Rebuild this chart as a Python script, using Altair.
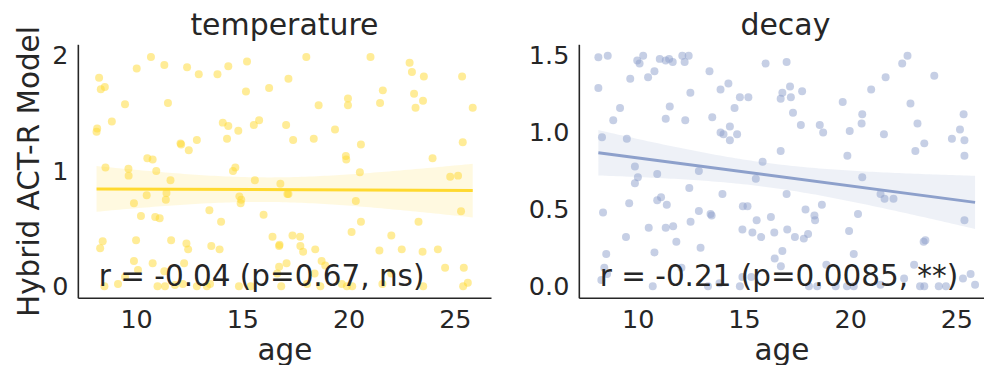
import altair as alt
import pandas as pd
import numpy as np

FONT = "DejaVu Sans"
INK = "#262626"

# ---- data ----
temp_age = [10.70, 18.01, 21.03, 11.33, 10.03, 12.40, 14.34, 15.22, 22.87, 22.98,
            23.54, 25.34, 8.26, 12.95, 13.83, 17.17, 8.34, 8.53, 15.17, 16.26,
            21.61, 23.08, 19.97, 19.97, 21.48, 23.50, 23.15, 25.84, 9.48, 11.50,
            18.59, 8.86, 8.17, 8.14, 14.08, 14.34, 14.81, 15.54, 15.79, 17.06,
            19.36, 12.09, 12.12, 12.86, 12.48, 14.28, 17.39, 18.36, 20.58, 25.37,
            10.53, 10.78, 8.56, 9.64, 9.65, 10.95, 14.56, 14.67, 15.59, 16.79,
            19.87, 19.89, 20.53, 23.95, 24.78, 25.15, 11.62, 10.50, 11.43, 11.40,
            9.90, 14.86, 14.95, 14.92, 17.12, 17.17, 20.34, 25.29, 13.45, 10.23,
            10.90, 11.11, 14.00, 16.00, 20.58, 20.14, 23.29, 22.01, 8.43, 8.31,
            10.00, 11.65, 12.37, 12.45, 13.54, 13.93, 16.42, 16.73, 16.75, 17.36,
            17.72, 17.73, 17.86, 18.43, 21.45, 22.50, 23.48, 24.20, 9.90, 10.78,
            12.26, 10.09, 9.48, 9.15, 8.51, 11.01, 11.36, 11.83, 12.20, 12.86,
            13.33, 13.48, 14.84, 15.39, 16.83, 17.08, 16.73, 16.64, 18.04, 18.67,
            18.73, 18.90, 19.68, 19.92, 20.17, 21.59, 22.01, 23.51, 24.54, 25.42,
            25.39, 25.61, 11.33, 18.40]
temp_val = [1.99, 1.99, 1.99, 1.92, 1.89, 1.90, 1.91, 1.95, 1.94, 1.86,
            1.82, 1.82, 1.81, 1.84, 1.84, 1.80, 1.71, 1.73, 1.69, 1.72,
            1.70, 1.67, 1.63, 1.57, 1.59, 1.61, 1.55, 1.55, 1.58, 1.59,
            1.57, 1.43, 1.37, 1.34, 1.42, 1.39, 1.35, 1.40, 1.44, 1.40,
            1.36, 1.24, 1.23, 1.27, 1.18, 1.28, 1.27, 1.28, 1.23, 1.25,
            1.11, 1.10, 1.03, 1.02, 0.96, 1.00, 1.00, 1.03, 0.92, 0.89,
            1.13, 1.10, 0.99, 1.11, 0.95, 0.96, 0.92, 0.79, 0.81, 0.75,
            0.72, 0.78, 0.75, 0.72, 0.80, 0.80, 0.74, 0.65, 0.66, 0.61,
            0.60, 0.59, 0.56, 0.62, 0.56, 0.47, 0.56, 0.44, 0.39, 0.33,
            0.40, 0.40, 0.37, 0.32, 0.35, 0.32, 0.43, 0.35, 0.36, 0.44,
            0.43, 0.35, 0.30, 0.32, 0.31, 0.32, 0.30, 0.32, 0.22, 0.20,
            0.20, 0.14, 0.08, 0.02, 0.00, 0.00, 0.00, 0.01, 0.02, 0.00,
            0.00, 0.02, 0.00, 0.00, 0.00, 0.20, 0.17, 0.11, 0.02, 0.00,
            0.22, 0.18, 0.02, 0.00, 0.00, 0.02, 0.11, 0.00, 0.16, 0.16,
            0.00, 0.03, 0.13, 0.11]

decay_age = [8.15, 8.59, 9.98, 10.09, 10.26, 10.49, 10.79, 11.04, 11.32, 11.48,
             11.65, 12.10, 12.21, 12.40, 8.15, 9.65, 13.38, 13.90, 14.27, 12.48,
             14.81, 15.21, 16.02, 17.01, 16.73, 16.81, 17.17, 17.21, 17.74, 17.31,
             17.68, 18.57, 18.73, 19.65, 19.98, 20.54, 20.57, 20.99, 21.67, 21.59,
             22.45, 22.70, 22.84, 23.17, 23.49, 23.07, 23.96, 24.79, 25.17, 25.34,
             25.38, 25.38, 9.17, 8.85, 11.32, 11.51, 12.24, 13.51, 13.90, 14.04,
             14.34, 14.68, 14.34, 14.56, 8.32, 9.49, 9.87, 10.01, 9.87, 10.92,
             12.88, 12.43, 13.99, 15.56, 15.88, 16.73, 17.01, 19.87, 20.57, 21.43,
             21.62, 22.04, 8.37, 9.60, 10.92, 11.10, 11.37, 12.88, 13.43, 13.48,
             14.95, 15.17, 15.60, 16.27, 17.90, 18.32, 18.35, 18.67, 20.37, 25.38,
             9.45, 10.52, 11.32, 11.67, 11.82, 12.49, 12.96, 14.93, 15.40, 15.81,
             16.43, 17.04, 17.40, 17.82, 18.02, 19.95, 23.46, 23.54, 8.52, 10.79,
             16.81, 16.45, 16.74, 18.88, 20.17, 23.01, 25.67, 25.31, 8.29, 8.43,
             8.56, 10.71, 12.06, 13.31, 13.85, 14.81, 14.93, 15.35, 18.06, 18.45,
             19.32, 19.85, 20.17, 21.43, 22.54, 23.29, 23.49, 24.17, 24.51, 25.88]
decay_val = [1.49, 1.50, 1.47, 1.45, 1.50, 1.36, 1.40, 1.48, 1.47, 1.48,
             1.46, 1.50, 1.46, 1.50, 1.29, 1.35, 1.40, 1.28, 1.32, 1.26,
             1.23, 1.23, 1.45, 1.46, 1.22, 1.26, 1.30, 1.23, 1.27, 1.13,
             1.05, 1.05, 1.00, 1.20, 1.01, 1.06, 1.12, 1.28, 1.36, 0.99,
             1.45, 1.50, 1.19, 1.06, 0.93, 0.88, 1.37, 0.96, 1.02, 1.12,
             0.95, 0.85, 1.16, 1.08, 1.09, 1.17, 1.08, 1.10, 1.00, 0.99,
             0.95, 0.99, 1.04, 1.16, 0.97, 0.96, 0.78, 0.71, 0.67, 0.73,
             0.75, 0.64, 0.60, 0.70, 0.81, 0.88, 0.60, 0.85, 0.71, 0.60,
             0.57, 0.57, 0.48, 0.54, 0.56, 0.58, 0.53, 0.49, 0.47, 0.46,
             0.52, 0.52, 0.43, 0.45, 0.50, 0.46, 0.43, 0.53, 0.47, 0.43,
             0.32, 0.38, 0.38, 0.39, 0.29, 0.42, 0.25, 0.37, 0.35, 0.32,
             0.35, 0.37, 0.32, 0.31, 0.34, 0.36, 0.29, 0.30, 0.21, 0.22,
             0.23, 0.18, 0.13, 0.14, 0.21, 0.14, 0.08, 0.05, 0.04, 0.12,
             0.08, 0.00, 0.12, 0.00, 0.02, 0.00, 0.06, 0.06, 0.00, 0.00,
             0.00, 0.00, 0.00, 0.01, 0.05, 0.00, 0.00, 0.00, 0.00, 0.01]

panel_titles = ["temperature", "decay"]
panel_colors = ["#FFD92F", "#8DA0CB"]
annotations = ["r = -0.04 (p=0.67, ns)", "r = -0.21 (p=0.0085, **)"]
x_ticks = [10, 15, 20, 25]
temp_y_ticks = [0, 1, 2]
decay_y_ticks = [0.0, 0.5, 1.0, 1.5]
y_label = "Hybrid ACT-R Model"


def ci_band(ages, vals):
    x = np.asarray(ages, dtype=float)
    y = np.asarray(vals, dtype=float)
    n = len(x)
    b1, b0 = np.polyfit(x, y, 1)
    resid = y - (b0 + b1 * x)
    s = np.sqrt(np.sum(resid ** 2) / (n - 2))
    xg = np.linspace(x.min(), x.max(), 100)
    se = s * np.sqrt(1.0 / n + (xg - x.mean()) ** 2 / np.sum((x - x.mean()) ** 2))
    fit = b0 + b1 * xg
    return pd.DataFrame({"age": xg, "lo": fit - 1.976 * se, "hi": fit + 1.976 * se})


def panel(ages, vals, color, title, annot, xdomain, ydomain, yticks, yfmt, width, ytitle):
    df = pd.DataFrame({"age": ages, "value": vals})
    band = ci_band(ages, vals)
    xs = alt.Scale(domain=xdomain, nice=False, zero=False)
    ys = alt.Scale(domain=ydomain, nice=False, zero=False)
    xaxis = alt.Axis(values=x_ticks, title="age", titlePadding=3)
    if ytitle:
        yaxis = alt.Axis(values=yticks, format=yfmt, title=ytitle, titlePadding=7)
    else:
        yaxis = alt.Axis(values=yticks, format=yfmt, title=None)
    pts = alt.Chart(df).mark_circle(size=64, opacity=0.5, color=color).encode(
        x=alt.X("age:Q", scale=xs, axis=xaxis),
        y=alt.Y("value:Q", scale=ys, axis=yaxis),
    )
    area = alt.Chart(band).mark_area(color=color, opacity=0.15).encode(
        x=alt.X("age:Q", scale=xs), y=alt.Y("lo:Q", scale=ys), y2="hi:Q"
    )
    line = alt.Chart(df).transform_regression("age", "value").mark_line(
        color=color, strokeWidth=3
    ).encode(x=alt.X("age:Q", scale=xs), y=alt.Y("value:Q", scale=ys))
    txt = alt.Chart(pd.DataFrame({"t": [annot]})).mark_text(
        align="left", baseline="alphabetic", fontSize=29.5, font=FONT, color=INK
    ).encode(x=alt.value(21), y=alt.value(242), text="t:N")
    ttl = alt.Chart(pd.DataFrame({"t": [title]})).mark_text(
        align="center", baseline="alphabetic", fontSize=30, font=FONT, color=INK
    ).encode(x=alt.value(207), y=alt.value(-9), text="t:N")
    return alt.layer(pts, area, line, txt, ttl).properties(width=width, height=254)


left = panel(temp_age, temp_val, panel_colors[0], panel_titles[0], annotations[0],
             [7.26, 26.7], [-0.1, 2.1], temp_y_ticks, "d", 414, y_label)
right = panel(decay_age, decay_val, panel_colors[1], panel_titles[1], annotations[1],
              [7.23, 26.30], [-0.075, 1.575], decay_y_ticks, ".1f", 406, None)

chart = alt.hconcat(left, right, spacing=37).properties(
    padding={"left": 14, "top": 11, "right": 0, "bottom": 0}
).configure_view(strokeWidth=0).configure_axis(
    labelFont=FONT, labelFontSize=25.5, labelColor=INK, labelPadding=10,
    titleFont=FONT, titleFontSize=29.5, titleFontWeight="normal", titleColor=INK,
    domainColor=INK, domainWidth=1.6, ticks=False, grid=False,
)

chart.save("out.html", embed_options={"renderer": "svg", "actions": False})
